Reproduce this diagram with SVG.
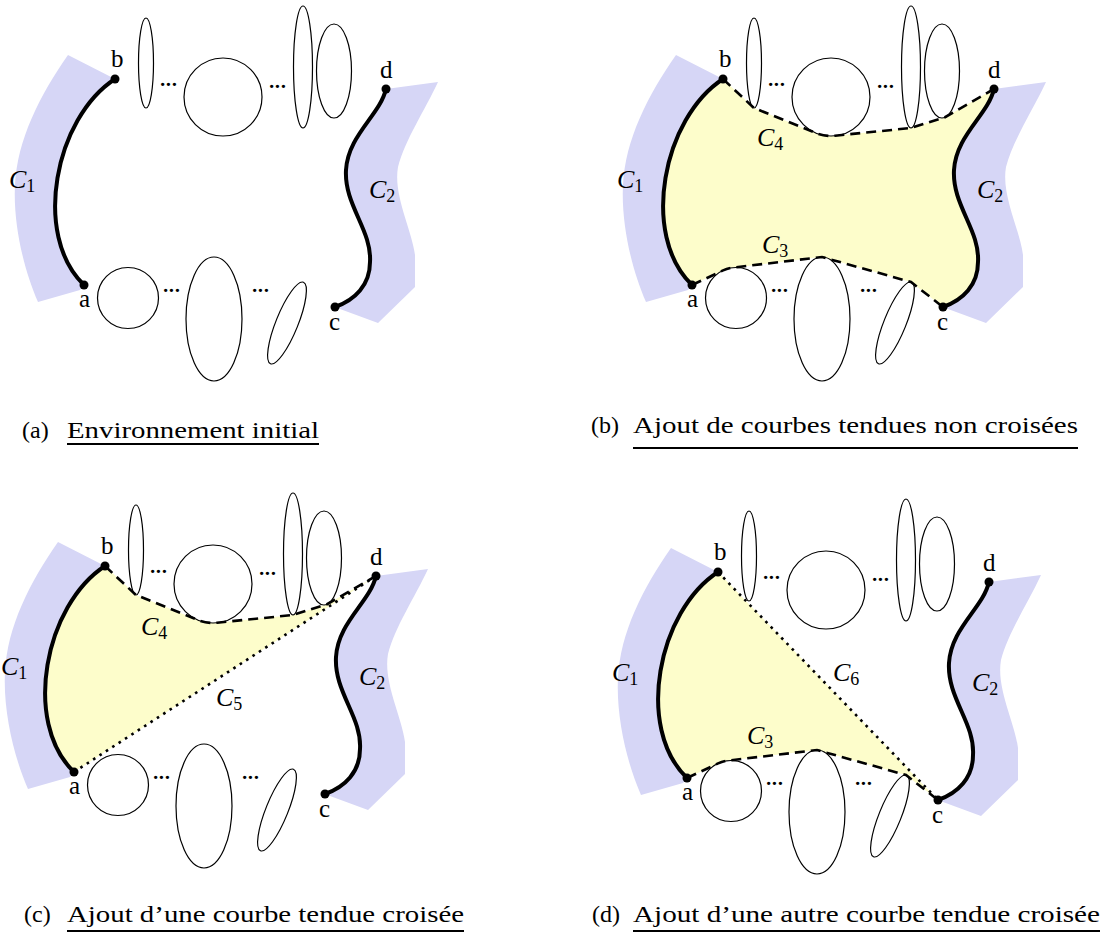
<svg xmlns="http://www.w3.org/2000/svg" xmlns:xlink="http://www.w3.org/1999/xlink" width="1107" height="933" viewBox="0 0 1107 933">
<style>
.band{fill:#d6d6f6;stroke:none}
.fillY{fill:#fdfdcb;stroke:none}
.obs{fill:#fff;stroke:#000;stroke-width:1.2}
.thick{fill:none;stroke:#000;stroke-width:4;stroke-linecap:round}
.dash{fill:none;stroke:#000;stroke-width:2.6;stroke-dasharray:10 6}
.dot{fill:none;stroke:#000;stroke-width:2.6;stroke-dasharray:2.6 5}
.pt{fill:#000}
.lbl{font-family:"Liberation Serif","DejaVu Serif",serif;font-size:25px;fill:#000}
.cl{font-family:"Liberation Serif","DejaVu Serif",serif;font-size:26px;fill:#000}
.cl .v{font-style:italic}
.cl .s{font-size:18px}
.dd{font-family:"Liberation Serif","DejaVu Serif",serif;font-size:28px;fill:#000}
.cap{font-family:"Liberation Serif","DejaVu Serif",serif;font-size:24px;fill:#000}
.ul{stroke:#000;stroke-width:1.8}
</style>
<defs>
<g id="bands">
<path class="band" d="M68,55 L115,79 C55,118 32,235 84,285 L80,290 L38,302 C24,270 13,225 15,185 C17,140 40,95 68,55 Z"/>
<path class="band" d="M386,89 L438,82 C425,110 405,140 398,167 C393,195 412,230 415,255 L415,287 L378,323 L340,309 L335,307 C355,300 370,285 370,262 C372,230 344,205 346,170 C348,135 380,115 386,89 Z"/>
</g>
<g id="base">
<ellipse class="obs" cx="146" cy="63" rx="7.5" ry="45"/>
<circle class="obs" cx="223" cy="97" r="39"/>
<ellipse class="obs" cx="303" cy="67" rx="9.5" ry="61"/>
<ellipse class="obs" cx="334" cy="71" rx="17.5" ry="47"/>
<circle class="obs" cx="128" cy="298" r="30.5"/>
<ellipse class="obs" cx="214" cy="319" rx="28" ry="62"/>
<ellipse class="obs" cx="287" cy="323" rx="11" ry="44" transform="rotate(22 287 323)"/>
<path class="thick" d="M115,79 C55,118 32,235 84,285"/>
<path class="thick" d="M386,89 C380,115 348,135 346,170 C344,205 372,230 370,262 C370,285 355,300 335,307"/>
<circle class="pt" cx="115" cy="79" r="4.5"/>
<circle class="pt" cx="84" cy="285" r="4.5"/>
<circle class="pt" cx="386" cy="89" r="4.5"/>
<circle class="pt" cx="335" cy="307" r="4.5"/>
</g>
<path id="c4" d="M115,79 L146,108 L208.4,133.2 A39,39 0 0 0 227,135.7 L303,128 L337,117.2 L386,89"/>
<path id="c3" d="M84,285 L115.1,270.4 A30.5,30.5 0 0 1 124.3,267.7 L214,257 L303,282 L335,307"/>
</defs>

<!-- Panel (a) -->
<g id="panel-a">
<use xlink:href="#bands"/>
<use xlink:href="#base"/>
<g class="dd"><text x="158" y="94" textLength="21">···</text><text x="267" y="96" textLength="21">···</text><text x="161" y="300" textLength="21">···</text><text x="250" y="300" textLength="21">···</text></g>
<text class="lbl" x="111" y="67">b</text>
<text class="lbl" x="79" y="307">a</text>
<text class="lbl" x="380" y="78">d</text>
<text class="lbl" x="329" y="330">c</text>
<text class="cl" x="9" y="188"><tspan class="v">C</tspan><tspan class="s" dy="4">1</tspan></text>
<text class="cl" x="369" y="198"><tspan class="v">C</tspan><tspan class="s" dy="4">2</tspan></text>
</g>

<!-- Panel (b) -->
<g id="panel-b" transform="translate(608,0)">
<use xlink:href="#bands"/>
<path class="fillY" d="M115,79 C55,118 32,235 84,285 L115.1,270.4 A30.5,30.5 0 0 1 124.3,267.7 L214,257 L303,282 L335,307 C355,300 370,285 370,262 C372,230 344,205 346,170 C348,135 380,115 386,89 L337,117.2 L303,128 L227,135.7 A39,39 0 0 1 208.4,133.2 L146,108 Z"/>
<use xlink:href="#base"/>
<use xlink:href="#c4" class="dash"/>
<use xlink:href="#c3" class="dash"/>
<g class="dd"><text x="158" y="94" textLength="21">···</text><text x="267" y="96" textLength="21">···</text><text x="161" y="300" textLength="21">···</text><text x="250" y="300" textLength="21">···</text></g>
<text class="lbl" x="111" y="67">b</text>
<text class="lbl" x="79" y="307">a</text>
<text class="lbl" x="380" y="78">d</text>
<text class="lbl" x="329" y="330">c</text>
<text class="cl" x="9" y="188"><tspan class="v">C</tspan><tspan class="s" dy="4">1</tspan></text>
<text class="cl" x="369" y="198"><tspan class="v">C</tspan><tspan class="s" dy="4">2</tspan></text>
<text class="cl" x="149" y="146"><tspan class="v">C</tspan><tspan class="s" dy="4">4</tspan></text>
<text class="cl" x="154" y="253"><tspan class="v">C</tspan><tspan class="s" dy="4">3</tspan></text>
</g>

<!-- Panel (c) -->
<g id="panel-c" transform="translate(-10,487)">
<use xlink:href="#bands"/>
<path class="fillY" d="M115,79 C55,118 32,235 84,285 L386,89 L337,117.2 L303,128 L227,135.7 A39,39 0 0 1 208.4,133.2 L146,108 Z"/>
<use xlink:href="#base"/>
<use xlink:href="#c4" class="dash"/>
<path class="dot" d="M84,285 L386,89"/>
<g class="dd"><text x="158" y="94" textLength="21">···</text><text x="267" y="96" textLength="21">···</text><text x="161" y="300" textLength="21">···</text><text x="250" y="300" textLength="21">···</text></g>
<text class="lbl" x="111" y="67">b</text>
<text class="lbl" x="79" y="307">a</text>
<text class="lbl" x="380" y="78">d</text>
<text class="lbl" x="329" y="330">c</text>
<text class="cl" x="11" y="188"><tspan class="v">C</tspan><tspan class="s" dy="4">1</tspan></text>
<text class="cl" x="369" y="198"><tspan class="v">C</tspan><tspan class="s" dy="4">2</tspan></text>
<text class="cl" x="151" y="148"><tspan class="v">C</tspan><tspan class="s" dy="4">4</tspan></text>
<text class="cl" x="226" y="219"><tspan class="v">C</tspan><tspan class="s" dy="4">5</tspan></text>
</g>

<!-- Panel (d) -->
<g id="panel-d" transform="translate(603,493)">
<use xlink:href="#bands"/>
<path class="fillY" d="M115,79 C55,118 32,235 84,285 L115.1,270.4 A30.5,30.5 0 0 1 124.3,267.7 L214,257 L303,282 L335,307 Z"/>
<use xlink:href="#base"/>
<use xlink:href="#c3" class="dash"/>
<path class="dot" d="M115,79 L335,307"/>
<g class="dd"><text x="158" y="94" textLength="21">···</text><text x="267" y="96" textLength="21">···</text><text x="161" y="300" textLength="21">···</text><text x="250" y="300" textLength="21">···</text></g>
<text class="lbl" x="111" y="67">b</text>
<text class="lbl" x="79" y="307">a</text>
<text class="lbl" x="380" y="78">d</text>
<text class="lbl" x="329" y="330">c</text>
<text class="cl" x="9" y="188"><tspan class="v">C</tspan><tspan class="s" dy="4">1</tspan></text>
<text class="cl" x="369" y="198"><tspan class="v">C</tspan><tspan class="s" dy="4">2</tspan></text>
<text class="cl" x="230" y="188"><tspan class="v">C</tspan><tspan class="s" dy="4">6</tspan></text>
<text class="cl" x="144" y="251"><tspan class="v">C</tspan><tspan class="s" dy="4">3</tspan></text>
</g>

<!-- Captions -->
<g id="captions">
<text class="cap" x="22" y="438">(a)</text>
<text class="cap" x="67" y="438" textLength="252" lengthAdjust="spacingAndGlyphs">Environnement initial</text>
<line class="ul" x1="67" y1="444" x2="319" y2="444"/>
<text class="cap" x="591" y="433">(b)</text>
<text class="cap" x="633" y="433" textLength="445" lengthAdjust="spacingAndGlyphs">Ajout de courbes tendues non croisées</text>
<line class="ul" x1="633" y1="448" x2="1078" y2="448"/>
<text class="cap" x="24" y="922">(c)</text>
<text class="cap" x="67" y="922" textLength="397" lengthAdjust="spacingAndGlyphs">Ajout d’une courbe tendue croisée</text>
<line class="ul" x1="67" y1="931" x2="464" y2="931"/>
<text class="cap" x="592" y="922">(d)</text>
<text class="cap" x="633" y="922" textLength="467" lengthAdjust="spacingAndGlyphs">Ajout d’une autre courbe tendue croisée</text>
<line class="ul" x1="633" y1="931" x2="1100" y2="931"/>
</g>
</svg>
